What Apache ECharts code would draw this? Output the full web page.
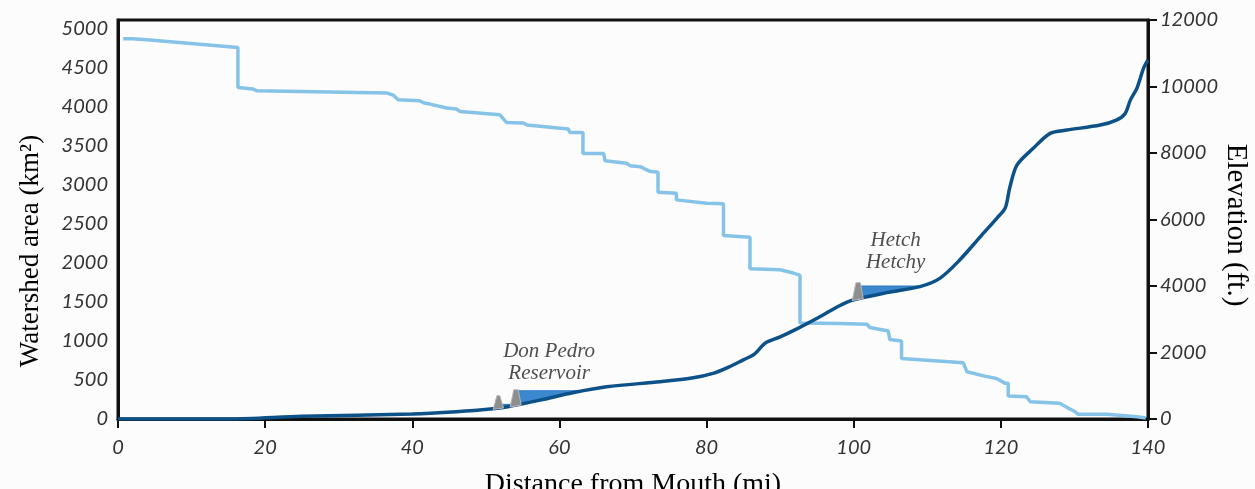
<!DOCTYPE html>
<html>
<head>
<meta charset="utf-8">
<script src="https://cdn.jsdelivr.net/npm/echarts@6/dist/echarts.min.js"></script>
<style>
  html, body { margin: 0; padding: 0; background: #fcfcfc; }
  #main { width: 1255px; height: 489px; }
</style>
</head>
<body>
<div id="main"></div>
<script>
// watershed area (km2) along the river, step profile
var areaMi = [0.7, 2.0, 2.0, 4.35, 4.6, 16.3, 16.3, 18.35, 18.9, 36.6, 37.4, 38.1, 41.0, 41.5, 42.4, 44.7, 46.0, 46.5,
  51.9, 52.8, 55.1, 55.6, 61.2, 61.4, 63.2, 63.2, 66.0, 66.2, 69.1, 69.6, 71.0, 71.6, 72.3, 73.4, 73.4, 75.9, 75.9,
  80.0, 82.3, 82.3, 85.9, 85.9, 90.0, 91.8, 92.7, 92.7, 98.1, 101.8, 102.2, 104.7, 104.9, 106.5, 106.5, 114.9, 115.4,
  117.8, 119.4, 120.6, 121.0, 121.0, 123.5, 124.0, 128.0, 129.2, 130.1, 130.5, 134.4, 138.5, 139.7];
var areaKm2 = [4876, 4876, 4859, 4859, 4834, 4761, 4249, 4229, 4207, 4178, 4152, 4092, 4079, 4054, 4037, 3986, 3973, 3942,
  3900, 3802, 3794, 3769, 3717, 3674, 3674, 3405, 3405, 3312, 3278, 3248, 3235, 3206, 3175, 3162, 2906, 2894, 2809,
  2766, 2758, 2353, 2331, 1927, 1914, 1871, 1841, 1231, 1224, 1215, 1173, 1129, 1019, 1001, 776, 720, 605,
  550, 520, 457, 457, 294, 285, 221, 201, 137, 93, 60, 60, 29, 13];

// river bed elevation (ft)
var elevMi = [0, 15, 25, 40, 46, 50.6, 53, 57.4, 61.8, 66.4, 73.7, 78, 81, 83, 85, 86.5, 88, 90, 92,
  95.4, 98, 99.9, 104.5, 109, 111.7, 114.4, 117.2, 119.5, 120.6, 121.2, 122.2, 124.4, 126.7, 129, 133.5, 135.7, 136.9,
  137.6, 138.5, 139.4, 140];
var elevFt = [0, 0, 80, 150, 220, 300, 370, 570, 790, 970, 1120, 1230, 1380, 1560, 1780, 1950, 2285, 2470, 2680,
  3077, 3400, 3580, 3800, 3980, 4230, 4780, 5480, 6050, 6350, 6950, 7640, 8140, 8590, 8690, 8840, 8990, 9190,
  9590, 9950, 10550, 10800];

// reservoirs and dams as [mi, ft] outlines
var oldDonPedroLake = [[52.2, 440], [53.5, 440], [53.5, 385], [52.2, 345]];
var donPedroLake = [[53.8, 850], [63, 850], [60, 700], [57.4, 570], [55.5, 470], [53.8, 410]];
var hetchHetchyLake = [[100.9, 4000], [109.5, 4000], [107, 3910], [104.5, 3800], [102.5, 3700], [100.9, 3630]];
var oldDonPedroDam = [[51.0, 290], [52.4, 330], [51.9, 700], [51.5, 700]];
var donPedroDam = [[53.3, 360], [54.8, 420], [54.4, 880], [53.8, 880]];
var hetchHetchyDam = [[99.8, 3560], [101.3, 3620], [100.9, 4100], [100.3, 4100]];

var lakes = [oldDonPedroLake, donPedroLake, hetchHetchyLake];
var dams = [oldDonPedroDam, donPedroDam, hetchHetchyDam];

var labelFont = 'Lato, "Open Sans", sans-serif';
var serif = '"Liberation Serif", "DejaVu Serif", serif';

function zip(a, b) {
  var out = [];
  for (var i = 0; i < a.length; i++) out.push([a[i], b[i]]);
  return out;
}

function plain(v) { return String(v); }

function polygonRenderer(shapes, fill, stroke) {
  return function (params, api) {
    var pts = shapes[params.dataIndex].map(function (p) { return api.coord(p); });
    return {
      type: 'polygon',
      shape: { points: pts },
      style: { fill: fill, stroke: stroke, lineWidth: 1 }
    };
  };
}

var myChart = echarts.init(document.getElementById('main'));
var option = {
  backgroundColor: '#fcfcfc',
  animation: false,
  grid: {
    left: 118, right: 107, top: 20, bottom: 70,
    containLabel: false, outerBoundsMode: 'none',
    show: true, borderColor: '#111', borderWidth: 3, backgroundColor: 'transparent'
  },
  // axis titles for the two value axes (placed like the original, slightly off-centre)
  graphic: [{
    type: 'text', x: 31, y: 251, rotation: Math.PI / 2,
    style: { text: 'Watershed area (km²)', font: '27px ' + serif, fill: '#000', align: 'center', verticalAlign: 'middle' }
  }, {
    type: 'text', x: 1236, y: 225, rotation: -Math.PI / 2,
    style: { text: 'Elevation (ft.)', font: '29px ' + serif, fill: '#000', align: 'center', verticalAlign: 'middle' }
  }],
  xAxis: {
    type: 'value', min: 0, max: 140, interval: 20,
    name: 'Distance from Mouth (mi)', nameLocation: 'middle', nameGap: 52,
    nameTextStyle: { fontFamily: serif, fontSize: 28, color: '#000' },
    axisLine: { lineStyle: { color: '#111', width: 3 } },
    axisTick: { length: 9, lineStyle: { color: '#111', width: 2 } },
    axisLabel: { margin: 19, fontFamily: labelFont, fontStyle: 'italic', fontSize: 20, color: '#333', formatter: plain },
    splitLine: { show: false }
  },
  yAxis: [{
    type: 'value', min: 0, max: 5115, interval: 500,
    axisLine: { show: true, lineStyle: { color: '#111', width: 3 } },
    axisTick: { show: false },
    axisLabel: {
      margin: 10, fontFamily: labelFont, fontStyle: 'italic', fontSize: 20, color: '#333',
      showMaxLabel: false, formatter: plain
    },
    splitLine: { show: false }
  }, {
    type: 'value', min: 0, max: 12000, interval: 2000, position: 'right',
    axisLine: { show: true, lineStyle: { color: '#111', width: 3 } },
    axisTick: { show: true, length: 9, lineStyle: { color: '#111', width: 2 } },
    axisLabel: { margin: 12, fontFamily: labelFont, fontStyle: 'italic', fontSize: 20, color: '#333', formatter: plain },
    splitLine: { show: false }
  }],
  series: [{
    name: 'Watershed area',
    type: 'line',
    yAxisIndex: 0,
    data: zip(areaMi, areaKm2),
    showSymbol: false,
    lineStyle: { color: '#86c3e8', width: 3.5 },
    z: 2
  }, {
    name: 'Reservoirs',
    type: 'custom',
    yAxisIndex: 1,
    renderItem: polygonRenderer(lakes, '#3b88cf', '#2f7bc2'),
    data: lakes.map(function (l, i) { return [i]; }),
    z: 3
  }, {
    name: 'Elevation',
    type: 'line',
    yAxisIndex: 1,
    data: zip(elevMi, elevFt),
    smooth: 0.3,
    showSymbol: false,
    lineStyle: { color: '#0d5189', width: 3.5 },
    z: 4
  }, {
    name: 'Dams',
    type: 'custom',
    yAxisIndex: 1,
    renderItem: polygonRenderer(dams, '#8e8e8e', '#b8b8b8'),
    data: dams.map(function (d, i) { return [i]; }),
    z: 5
  }, {
    name: 'Labels',
    type: 'scatter',
    yAxisIndex: 1,
    symbolSize: 1,
    itemStyle: { color: 'rgba(0,0,0,0)' },
    data: [
      { value: [58.6, 1714], label: { formatter: 'Don Pedro\nReservoir' } },
      { value: [105.7, 5050], label: { formatter: 'Hetch\nHetchy' } }
    ],
    label: {
      show: true, position: 'inside', fontFamily: serif, fontStyle: 'italic',
      fontSize: 21, lineHeight: 22, color: '#222', align: 'center'
    },
    z: 6
  }]
};
myChart.setOption(option);
</script>
</body>
</html>
